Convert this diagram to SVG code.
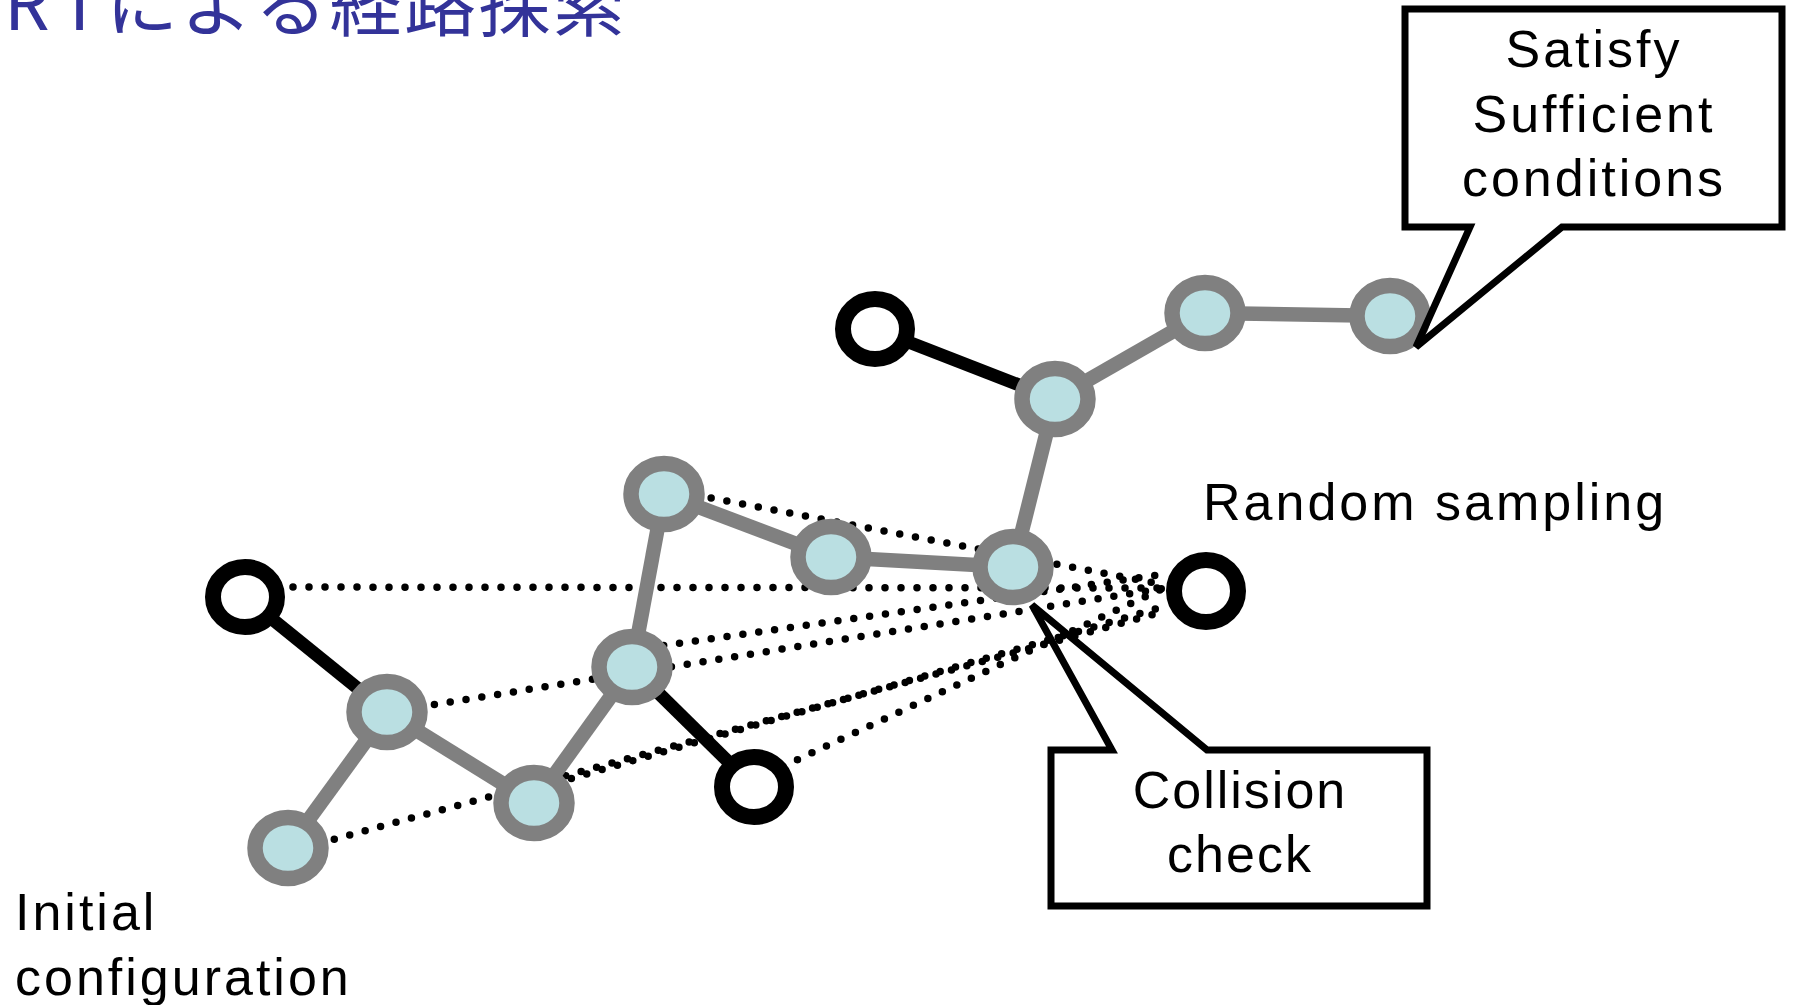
<svg xmlns="http://www.w3.org/2000/svg" width="1793" height="1005" viewBox="0 0 1793 1005">
<style>
.tree{stroke:#808080;stroke-width:14.5;fill:none}
.ext{stroke:#000;stroke-width:13;fill:none}
.dot{stroke:#000;stroke-width:7.5;stroke-dasharray:0 16;stroke-linecap:round;fill:none}
.tn ellipse{fill:#BADFE2;stroke:#808080;stroke-width:15.5}
.sn ellipse{fill:#fff;stroke:#000;stroke-width:16}
.callout{fill:none;stroke:#000;stroke-width:7;stroke-linejoin:miter}
.lbl{font-family:"Liberation Sans",Arial,sans-serif;font-size:52px;letter-spacing:3px;fill:#000}
.title{font-family:"Noto Sans CJK JP",sans-serif;font-size:72px;fill:#333399}
</style>
<rect width="1793" height="1005" fill="#fff"/>
<text class="title" id="title" x="-46 4 58 106 180.5 255 329.5 404 478.5 553" y="30">RRTによる経路探索</text>
<g id="connectors">
  <g id="dotted">
    <line class="dot" x1="664" y1="489" x2="1166" y2="585"/>
    <line class="dot" x1="245" y1="587" x2="1166" y2="588"/>
    <line class="dot" x1="632" y1="650" x2="1166" y2="574"/>
    <line class="dot" x1="387" y1="712" x2="1166" y2="588"/>
    <line class="dot" x1="288" y1="852" x2="1166" y2="611"/>
    <line class="dot" x1="556" y1="783" x2="1166" y2="606"/>
    <line class="dot" x1="754" y1="780" x2="1166" y2="587"/>
  </g>
  <g id="tree-edges">
    <line class="tree" x1="288" y1="848" x2="387" y2="712"/>
    <line class="tree" x1="387" y1="712" x2="534" y2="803"/>
    <line class="tree" x1="534" y1="803" x2="632" y2="667"/>
    <line class="tree" x1="632" y1="667" x2="664" y2="494"/>
    <line class="tree" x1="664" y1="494" x2="831" y2="557"/>
    <line class="tree" x1="831" y1="557" x2="1013" y2="567"/>
    <line class="tree" x1="1013" y1="567" x2="1055" y2="399"/>
    <line class="tree" x1="1055" y1="399" x2="1205" y2="313"/>
    <line class="tree" x1="1205" y1="313" x2="1390" y2="316"/>
  </g>
  <g id="extension-edges">
    <line class="ext" x1="245" y1="597" x2="387" y2="712"/>
    <line class="ext" x1="632" y1="667" x2="754" y2="787"/>
    <line class="ext" x1="875" y1="329" x2="1055" y2="399"/>
  </g>
</g>
<g id="n1" class="tn"><ellipse cx="288" cy="848" rx="33" ry="30.5"/></g>
<g id="n2" class="tn"><ellipse cx="387" cy="712" rx="33" ry="30.5"/></g>
<g id="n3" class="tn"><ellipse cx="534" cy="803" rx="33" ry="30.5"/></g>
<g id="n4" class="tn"><ellipse cx="632" cy="667" rx="33" ry="30.5"/></g>
<g id="n5" class="tn"><ellipse cx="664" cy="494" rx="33" ry="30.5"/></g>
<g id="n6" class="tn"><ellipse cx="831" cy="557" rx="33" ry="30.5"/></g>
<g id="n7" class="tn"><ellipse cx="1013" cy="567" rx="33" ry="30.5"/></g>
<g id="n8" class="tn"><ellipse cx="1055" cy="399" rx="33" ry="30.5"/></g>
<g id="n9" class="tn"><ellipse cx="1205" cy="313" rx="33" ry="30.5"/></g>
<g id="n10" class="tn"><ellipse cx="1390" cy="316" rx="33" ry="30.5"/></g>
<g id="s1" class="sn"><ellipse cx="245" cy="597" rx="32" ry="30"/></g>
<g id="s2" class="sn"><ellipse cx="754" cy="787" rx="32" ry="30"/></g>
<g id="s3" class="sn"><ellipse cx="875" cy="329" rx="32" ry="30"/></g>
<g id="s4" class="sn"><ellipse cx="1206" cy="591" rx="32" ry="31"/></g>
<g id="callout-satisfy">
  <polygon class="callout" points="1405,9 1782,9 1782,227 1562,227 1416,347 1470,227 1405,227"/>
  <text class="lbl" text-anchor="middle" x="1594" y="67">Satisfy</text>
  <text class="lbl" text-anchor="middle" x="1594" y="132">Sufficient</text>
  <text class="lbl" text-anchor="middle" x="1594" y="196">conditions</text>
</g>
<g id="callout-collision">
  <polygon class="callout" points="1051,750 1112,750 1032,605 1207,750 1427,750 1427,906 1051,906"/>
  <text class="lbl" text-anchor="middle" x="1240" y="808" style="letter-spacing:2px">Collision</text>
  <text class="lbl" text-anchor="middle" x="1240" y="872" style="letter-spacing:2px">check</text>
</g>
<g id="label-random">
  <text class="lbl" x="1203" y="520">Random sampling</text>
</g>
<g id="label-initial">
  <text class="lbl" x="15" y="930">Initial</text>
  <text class="lbl" x="15" y="995">configuration</text>
</g>
</svg>
